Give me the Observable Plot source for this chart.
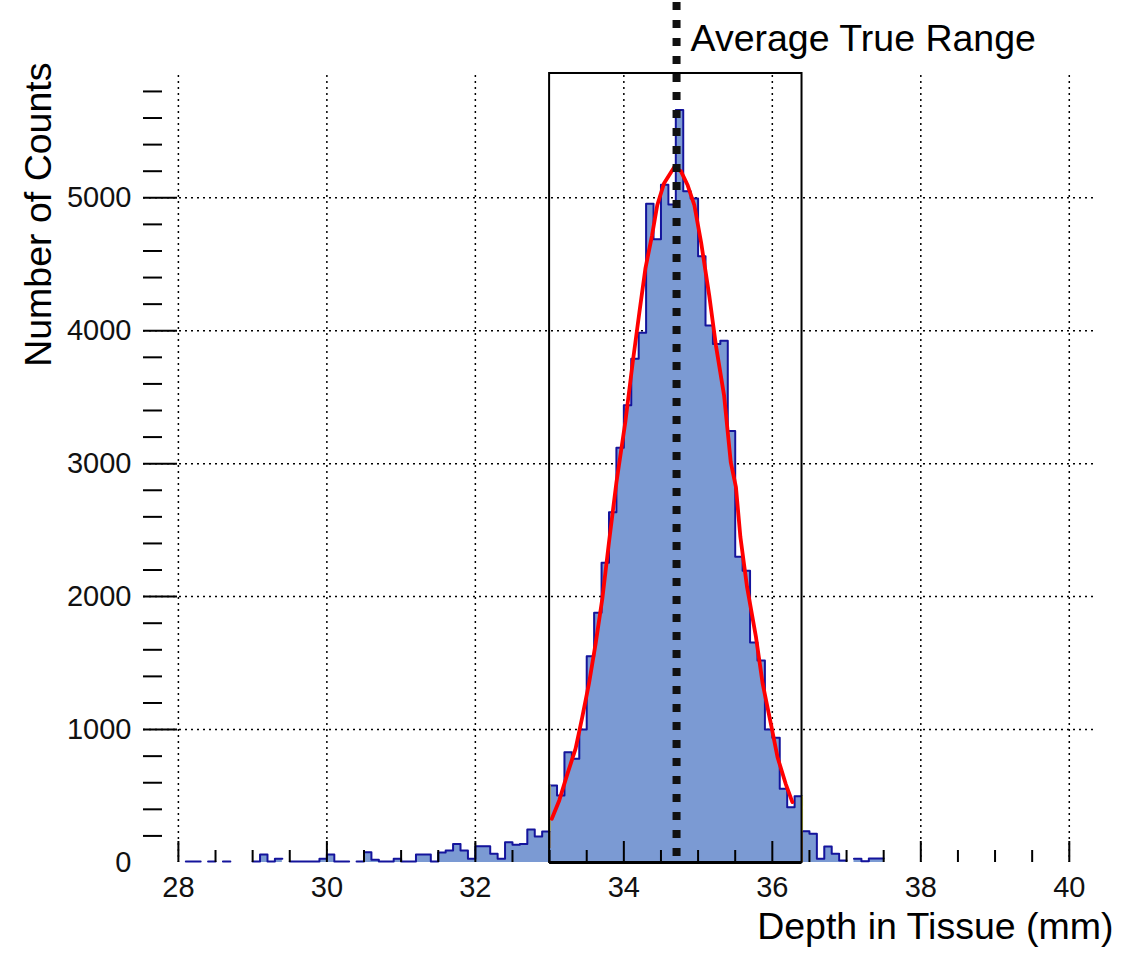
<!DOCTYPE html>
<html><head><meta charset="utf-8">
<script src="https://cdn.jsdelivr.net/npm/d3@7"></script>
<script src="https://cdn.jsdelivr.net/npm/@observablehq/plot@0.6"></script>
<style>body{margin:0;background:#fff} svg{display:block}</style>
</head><body><div id="chart"></div>
<script>
// ---- data ----
const binStart = 28.0;      // mm, left edge of first bin
const binWidth = 0.1;       // mm
const counts = [0,8,8,0,8,0,8,0,0,0, 8,60,8,28,0,8,8,8,8,28, 60,8,8,0,8,78,20,8,8,28,
  8,8,60,60,8,75,90,140,90,28, 122,122,65,28,153,133,140,248,195,233,
  579,504,830,780,1000,1552,1878,2254,2634,3120, 3440,3790,3985,4956,4688,5099,4950,5660,5050,4995,
  4560,4040,3900,3925,3245,2300,2195,1655,1520,1000, 938,554,416,499,235,216,28,120,65,15,
  0,28,10,30,30];
const fitX = [33.03,33.13,33.24,33.35,33.44,33.53,33.62,33.71,33.80,33.90,34.02,34.12,34.21,34.29,34.38,34.45,34.54,34.68,34.77,34.86,34.95,35.04,35.15,35.24,35.35,35.44,35.51,35.57,35.66,35.78,35.87,35.98,36.07,36.18,36.27];
const fitY = [329,467,667,856,1093,1345,1646,1984,2410,2859,3313,3764,4141,4467,4718,4944,5107,5232,5199,5094,4944,4667,4266,3890,3514,3012,2824,2448,2071,1695,1345,1044,792,592,454];
const averageTrueRange = [34.71];
const fitRange = [33.0, 36.4];
const boxTop = [5935];
const xTickLabels = [28,30,32,34,36,38,40];
const yTickLabels = [0,1000,2000,3000,4000,5000];
const xTitle = "Depth in Tissue (mm)";
const yTitle = "Number of Counts";
const atrLabel = "Average True Range";

// ---- derived tables ----
const bins = counts.map((c, k) => ({x1: (binStart*10 + k)/10, x2: (binStart*10 + k + 1)/10, c}));
const outline = [];
for (const b of bins) {
  if (b.c > 0) { outline.push({x: b.x1, y: b.c}, {x: b.x2, y: b.c}); }
  else outline.push({x: b.x1, y: NaN});
}
const fit = fitX.map((x, i) => ({x, y: fitY[i]}));
const binAt = (v) => bins.findIndex(b => Math.abs(b.x1 - v) < 1e-6);
const iLo = binAt(fitRange[0]), iHi = binAt(fitRange[1]);
const edgeYellow = [
  {x: fitRange[0], y1: bins[iLo-1].c, y2: bins[iLo].c},
  {x: fitRange[1], y1: bins[iHi].c, y2: bins[iHi-1].c}
];
const edgeBrown = [
  {x: fitRange[0], y1: bins[iLo-1].c * 0.45, y2: bins[iLo-1].c},
  {x: fitRange[1], y1: 0, y2: bins[iHi].c}
];
const xMinor = d3.range(28, 40.01, 0.5).map(v => +v.toFixed(1)).filter(v => !xTickLabels.includes(v));
const yMinor = d3.range(200, 5801, 200).filter(v => v % 1000 !== 0);

// ---- layout ----
const W = 1137, H = 968;
const mL = 143, mR = 40, mT = 71, mB = 106;
const fw = W - mL - mR, fh = H - mT - mB;
const font = "'Liberation Sans', Arial, Helvetica, sans-serif";
const grid = {stroke: "#000", strokeWidth: 1.5, strokeDasharray: "2,4"};

const chart = Plot.plot({
  width: W, height: H,
  marginLeft: mL, marginRight: mR, marginTop: mT, marginBottom: mB,
  style: {fontFamily: font, background: "#fff", overflow: "visible"},
  x: {domain: [27.53, 40.38], axis: null},
  y: {domain: [0, 5950], axis: null},
  marks: [
    Plot.ruleY(yTickLabels.filter(v => v > 0), grid),
    Plot.ruleX(xTickLabels, {...grid, insetTop: 4}),
    Plot.area(outline, {x1: "x", y1: 0, y2: "y", fill: "#7b9ad3"}),
    Plot.line(outline, {x: "x", y: "y", stroke: "#14149c", strokeWidth: 2}),
    Plot.ruleX(edgeBrown, {x: "x", y1: "y1", y2: "y2", stroke: "#8b6a3e", strokeWidth: 2}),
    Plot.ruleX(edgeYellow, {x: "x", y1: "y1", y2: "y2", stroke: "#f2f25a", strokeWidth: 2}),
    Plot.rect([{x1: fitRange[0], x2: fitRange[1], y: boxTop[0]}], {x1: "x1", x2: "x2", y1: 0, y2: "y", fill: "none", stroke: "#000", strokeWidth: 2}),
    Plot.ruleY([0], {x1: fitRange[0], x2: fitRange[1], stroke: "#000", strokeWidth: 3}),
    Plot.line(fit, {x: "x", y: "y", stroke: "#ff0000", strokeWidth: 3.8}),
    // ticks
    Plot.ruleX(xTickLabels, {stroke: "#000", strokeWidth: 2, insetTop: fh - 21}),
    Plot.ruleX(xMinor, {stroke: "#000", strokeWidth: 2, insetTop: fh - 12}),
    Plot.ruleY(yTickLabels.filter(v => v > 0), {stroke: "#000", strokeWidth: 2, insetRight: fw - 34}),
    Plot.ruleY(yMinor, {stroke: "#000", strokeWidth: 2, insetRight: fw - 19}),
    // average true range
    Plot.ruleX(averageTrueRange, {stroke: "#111", strokeWidth: 8, strokeDasharray: "8,10", insetTop: -69}),
    Plot.text(averageTrueRange, {x: d => d, frameAnchor: "top", dx: 14, dy: -21, text: () => atrLabel, textAnchor: "start", lineAnchor: "bottom", fontSize: 37.5, fill: "#000"}),
    // tick labels
    Plot.text(yTickLabels, {y: d => d, frameAnchor: "left", dx: -12, text: d => String(d), textAnchor: "end", lineAnchor: "middle", fontSize: 29, fill: "#111"}),
    Plot.text(xTickLabels, {x: d => d, frameAnchor: "bottom", dy: 34, text: d => String(d), textAnchor: "middle", lineAnchor: "bottom", fontSize: 29, fill: "#111"}),
    // titles
    Plot.text([xTitle], {frameAnchor: "bottom-right", dx: 16, dy: 76, text: d => d, textAnchor: "end", lineAnchor: "bottom", fontSize: 37.5, fill: "#000"}),
    Plot.text([yTitle], {frameAnchor: "top-left", dx: -93, dy: -9, rotate: -90, text: d => d, textAnchor: "end", lineAnchor: "bottom", fontSize: 37.5, fill: "#000"})
  ]
});
document.getElementById("chart").appendChild(chart);
</script>
</body></html>
